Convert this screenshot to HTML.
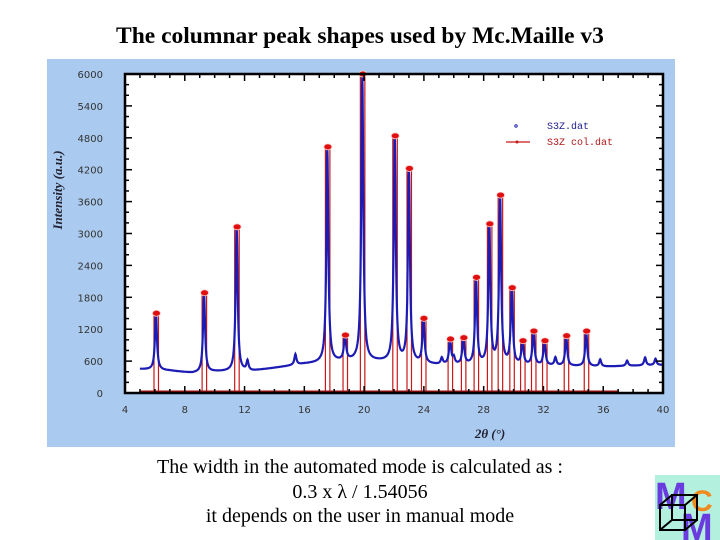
<!DOCTYPE html>
<html><head><meta charset="utf-8"><style>
body{margin:0;width:720px;height:540px;background:#fff;overflow:hidden;position:relative;font-family:"Liberation Serif",serif}
.t{position:absolute;left:0;width:720px;text-align:center;color:#000}
</style></head><body>
<div class="t" style="top:23px;font-size:23.5px;font-weight:bold">The columnar peak shapes used by Mc.Maille v3</div>
<svg id="c" width="720" height="540" style="position:absolute;left:0;top:0" xmlns="http://www.w3.org/2000/svg">
<rect x="47" y="59" width="628" height="388" fill="#aacbef"/>
<rect x="125" y="74" width="538" height="319" fill="#fff"/>
<g id="g"></g>
</svg>
<div class="t" style="top:455px;font-size:20px;line-height:24.5px">The width in the automated mode is calculated as :<br>0.3 x λ / 1.54056<br>it depends on the user in manual mode</div>
<svg width="65" height="65" style="position:absolute;left:655px;top:475px">
<rect width="65" height="65" fill="#b3f0de"/>
<text x="0" y="34" font-family="Liberation Sans,sans-serif" font-weight="bold" font-size="38" fill="#6a3ce0">M</text>
<text x="36" y="36" font-family="Liberation Sans,sans-serif" font-weight="bold" font-size="30" fill="#f08a1c">C</text>
<text x="26" y="65" font-family="Liberation Sans,sans-serif" font-weight="bold" font-size="38" fill="#6a3ce0">M</text>
<g fill="none" stroke="#000" stroke-width="2"><rect x="5" y="30" width="25" height="25"/><rect x="17" y="20" width="25" height="25"/><path d="M5 30L17 20M30 30L42 20M30 55L42 45M5 55L17 45"/></g>
</svg>
<script>
const peakPos=[6.07,9.29,11.47,17.54,18.72,19.88,22.05,23.0,23.97,25.75,26.64,27.49,28.38,29.1,29.88,30.6,31.33,32.07,33.52,34.86];
const peakHeight=[1500,1885,3126,4630,1090,6000,4837,4224,1404,1015,1040,2175,3182,3722,1980,983,1165,983,1077,1165];
const minorPos=[12.2,15.4,25.2,26.0,32.8,35.8,37.6,38.8,39.5];
const minorHeight=[180,200,120,120,150,130,100,150,120];
const bgX=[5,7,8.5,10,12.5,16,19,21,25,30,36,40];
const bgY=[450,420,375,400,413,545,600,590,526,520,495,526];
const yTicks=[0,600,1200,1800,2400,3000,3600,4200,4800,5400,6000];
const yLabels=["0","600","1200","1800","2400","3000","3600","4200","4800","5400","6000"];
const xTicks=[4,8,12,16,20,24,28,32,36,40];
const NS="http://www.w3.org/2000/svg",g=document.getElementById('g');
const X=v=>125+(v-4)*538/36, Y=v=>393-v*319/6000;
function el(t,a,n){const e=document.createElementNS(NS,t);for(const k in a)e.setAttribute(k,a[k]);g.appendChild(e);return e;}
function bg(x){for(let i=0;i<bgX.length-1;i++)if(x<=bgX[i+1]){const f=(x-bgX[i])/(bgX[i+1]-bgX[i]);return bgY[i]+f*(bgY[i+1]-bgY[i]);}return bgY[bgY.length-1];}
let pts=[];
for(let x=5;x<=40.001;x+=0.02){let y=bg(x);
 peakPos.forEach((p,i)=>{const a=peakHeight[i]-bg(p),w=0.08;y+=a/(1+((x-p)/w)**2);});
 minorPos.forEach((p,i)=>{y+=minorHeight[i]/(1+((x-p)/0.08)**2);});
 pts.push(X(x).toFixed(1)+','+Y(Math.min(y,6000)).toFixed(1));}
const red="#c81818";
peakPos.forEach((p,i)=>{
 const l=X(p-0.13),r=X(p+0.17),t=Y(peakHeight[i]);
 const c=el('path',{d:`M${l} 393V${t}H${r}V393`,fill:'none',stroke:red,'stroke-width':1.2});
 
 
});
const bl=el('polyline',{points:pts.join(' '),fill:'none',stroke:'#1c1cb4','stroke-width':2.2});


peakPos.forEach((p,i)=>{
 const m=el('ellipse',{cx:X(p)+0.5,cy:Y(peakHeight[i]),rx:4,ry:3,fill:'#e01010',stroke:'#ffd0d0','stroke-width':0.8});
 
 
});
const rb=el('line',{x1:X(5),x2:X(37),y1:392,y2:392,stroke:'#a01010','stroke-width':3});


const fr=el('rect',{x:125,y:74,width:538,height:319,fill:'none',stroke:'#000','stroke-width':2.5});


for(let v=0;v<=6000;v+=200){const y=Y(v),L=v%600==0?7:4;
 el('line',{x1:125,x2:125+L,y1:y,y2:y,stroke:'#000','stroke-width':1.5});
 el('line',{x1:663,x2:663-L,y1:y,y2:y,stroke:'#000','stroke-width':1.5});}
for(let v=4;v<=40;v++){const x=X(v),L=v%4==0?7:4;
 el('line',{x1:x,x2:x,y1:393,y2:393-L,stroke:'#000','stroke-width':1.5});
 el('line',{x1:x,x2:x,y1:74,y2:74+L,stroke:'#000','stroke-width':1.5});}
yTicks.forEach((v,i)=>{const t=el('text',{x:103,y:Y(v)+4,'text-anchor':'end','font-family':'DejaVu Sans,sans-serif','font-size':10,fill:'#333'});t.textContent=yLabels[i];
 
 });
xTicks.forEach(v=>{const t=el('text',{x:X(v),y:413,'text-anchor':'middle','font-family':'DejaVu Sans,sans-serif','font-size':10,fill:'#333'});t.textContent=v;
 
 });
const yt=el('text',{x:0,y:0,transform:'translate(62,190) rotate(-90)','text-anchor':'middle','font-family':'Liberation Serif,serif','font-size':13,'font-weight':'bold','font-style':'italic',fill:'#223'});
yt.textContent='Intensity (a.u.)';


const xt=el('text',{x:490,y:438,'text-anchor':'middle','font-family':'Liberation Serif,serif','font-size':13,'font-weight':'bold','font-style':'italic',fill:'#223'});
xt.textContent='2θ (°)';


el('circle',{cx:516,cy:126,r:1.2,fill:'none',stroke:'#1c1cb4'});
const l1=el('text',{x:547,y:129,'font-family':'Liberation Mono,monospace','font-size':10,fill:'#1c1c90'});l1.textContent='S3Z.dat';


el('line',{x1:506,x2:530,y1:142,y2:142,stroke:red,'stroke-width':1.2});
el('circle',{cx:517,cy:142,r:1.5,fill:red});
const l2=el('text',{x:547,y:145,'font-family':'Liberation Mono,monospace','font-size':10,fill:'#b01818'});l2.textContent='S3Z col.dat';


</script>
</body></html>
